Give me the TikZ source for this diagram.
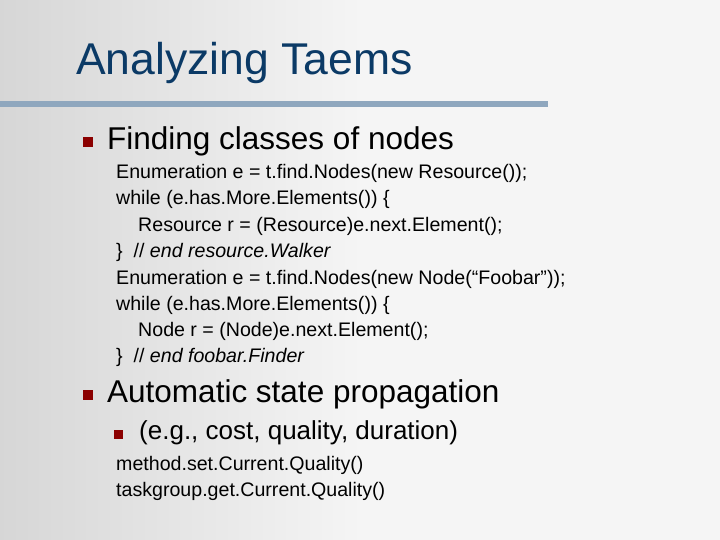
\documentclass[tikz,border=0pt]{standalone}
\usepackage{fontspec}
\setmainfont{Liberation Sans}
\usetikzlibrary{positioning}
\definecolor{titleblue}{HTML}{0B3A66}
\definecolor{rulegray}{HTML}{8FA7BE}
\definecolor{bulletred}{HTML}{8B0000}
\begin{document}
\begin{tikzpicture}[x=1pt,y=-1pt,
		every node/.style={anchor=west, inner sep=0pt},
		level1/.style={font=\fontsize{31.5}{34}\selectfont},
		level2/.style={font=\fontsize{26}{30}\selectfont},
		code/.style={font=\fontsize{19.6}{22}\selectfont},
		bullet/.style={fill=bulletred, minimum size=10pt}
		]
		
		% Background
		\shade[left color=black!16, right color=black!4] (0,0) rectangle (360,540);
		\fill[black!4] (360,0) rectangle (720,540);
		\useasboundingbox (0,0) rectangle (720,540);
		
		% Title
		\node[text=titleblue, font=\fontsize{44.5}{48}\selectfont] (title) at (76,63) {Analyzing Taems};
		\fill[rulegray] (0,101) rectangle (548,107);
		
		% First bullet
		\node[bullet] (b1) at (83,142) {};
		\node[level1] (find) at (107,141) {Finding classes of nodes};
		\node[code] (c1) at (116,173) {Enumeration e = t.find.Nodes(new Resource());};
		\node[code] (c2) at (116,199) {while (e.has.More.Elements()) \{};
		\node[code] (c3) at (138,226) {Resource r = (Resource)e.next.Element();};
		\node[code] (c4) at (116,252) {\}~ // \textit{end resource.Walker}};
		\node[code] (c5) at (116,279) {Enumeration e = t.find.Nodes(new Node(“Foobar”));};
		\node[code] (c6) at (116,305) {while (e.has.More.Elements()) \{};
		\node[code] (c7) at (138,331) {Node r = (Node)e.next.Element();};
		\node[code] (c8) at (116,357) {\}~ // \textit{end foobar.Finder}};
		
		% Second bullet
		\node[bullet] (b2) at (83,395) {};
		\node[level1] (auto) at (107,394) {Automatic state propagation};
		\node[bullet, minimum size=9pt] (b3) at (114,434) {};
		\node[level2] (eg) at (139,433) {(e.g., cost, quality, duration)};
		\node[code] (m1) at (116,465) {method.set.Current.Quality()};
		\node[code] (m2) at (116,491) {taskgroup.get.Current.Quality()};
		
	\end{tikzpicture}
\end{document}
